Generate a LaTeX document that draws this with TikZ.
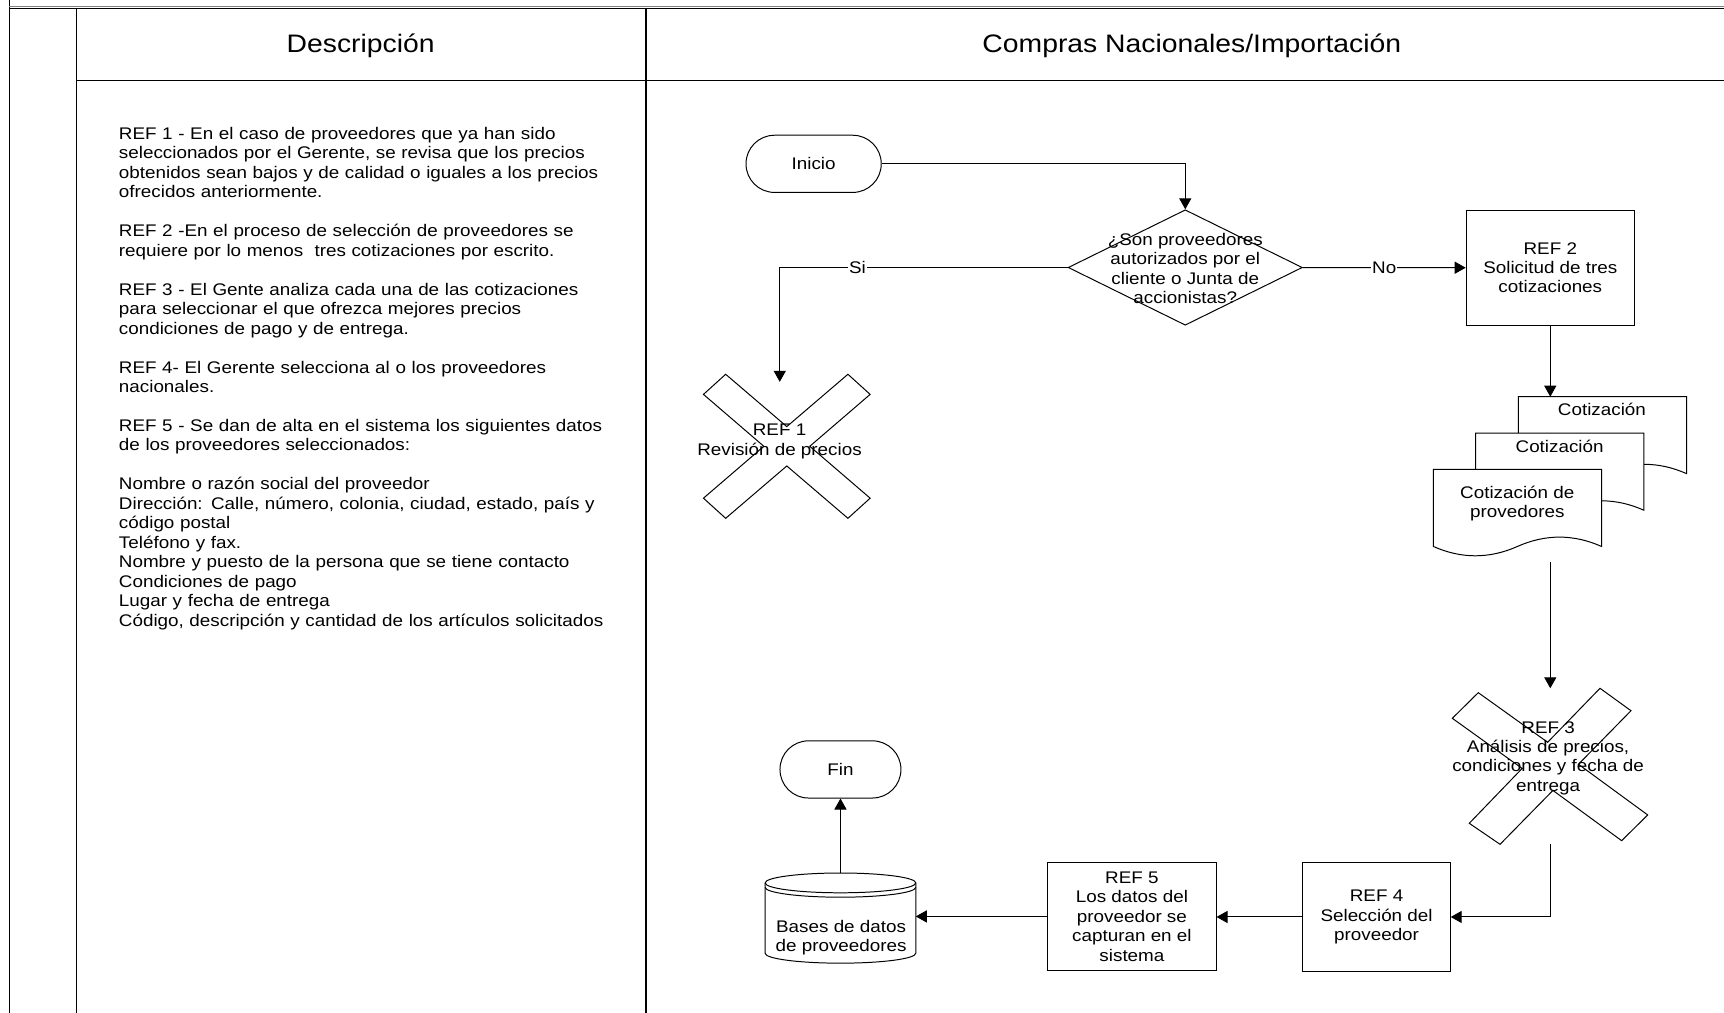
\documentclass[tikz,border=0pt]{standalone}
\usepackage{fontspec}
\setmainfont{Liberation Sans}[FakeStretch=1.12]
\usetikzlibrary{arrows.meta,shapes.geometric}

\newcommand\bodyfont{\fontsize{15.3}{17.7}\selectfont}
\newcommand\headfont{\fontsize{23}{27}\selectfont}

\tikzset{
  conn/.style={line width=0.9pt},
  arr/.style={conn, -{Triangle[length=10pt,width=11pt]}},
  frame/.style={line width=1.3pt},
  txt/.style={inner sep=0pt, align=center, font=\bodyfont},
  desctext/.style={inner sep=0pt, align=left, text width=480pt, font=\bodyfont},
  procbox/.style={draw, line width=0.9pt, inner sep=0pt, align=center, font=\bodyfont, minimum height=99pt},
  term/.style={draw, line width=0.9pt, rounded corners=25.9pt, minimum height=52pt, inner sep=0pt, font=\bodyfont},
  decision/.style={draw, diamond, line width=0.9pt, minimum width=213pt, minimum height=105pt, inner sep=0pt},
  hotspot/.style={inner sep=0pt, outer sep=0pt},
  lbl/.style={fill=white, inner sep=1pt, font=\bodyfont},
  pageline/.style={draw, line width=0.9pt, fill=white, line join=miter},
  crossline/.style={draw, line width=0.9pt, line join=miter},
  % one sheet of the stacked documents, anchored at its top-left corner
  docpage/.pic={
    \path[pageline] (0,0) -- (153,0) -- (153,70)
      .. controls (127.5,58.67) and (102,58.67) .. (76.5,70)
      .. controls (51,81.33) and (25.5,81.33) .. (0,70) -- cycle;
  },
  % cross-shaped manual step, narrow arms
  crossone/.pic={
    \path[crossline] (-55.6,-65.5) -- (0,-17.9) -- (55.6,-65.5) -- (75.8,-47.2)
      -- (20.9,0) -- (75.8,47.2) -- (55.6,65.5) -- (0,17.9) -- (-55.6,65.5)
      -- (-75.8,47.2) -- (-20.9,0) -- (-75.8,-47.2) -- cycle;
  },
  % cross-shaped manual step, wider arms
  crosstwo/.pic={
    \path[crossline] (-65.5,-67) -- (-2.4,-21.9) -- (45.2,-71) -- (73.4,-50.6)
      -- (25.6,-1.9) -- (88.6,44.2) -- (64.9,67.6) -- (2.4,21.9) -- (-45.7,70.9)
      -- (-73.7,51.8) -- (-25.6,1.9) -- (-89.1,-43.7) -- cycle;
  },
  % database cylinder, centred on its box
  cylinder/.pic={
    \path[crossline] (-68.5,-32) -- (-68.5,32)
      arc[start angle=180, end angle=0, x radius=68.5, y radius=9] -- (68.5,-32);
    \path[crossline] (0,-32) ellipse [x radius=68.5, y radius=9];
    \path[crossline] (-68.5,-28) arc[start angle=180, end angle=0, x radius=68.5, y radius=9];
  },
}

\begin{document}
\begin{tikzpicture}[x=1pt, y=-1pt]
\useasboundingbox (0,0) rectangle (1568,921);

% table frame
\draw[frame] (8.5,0) -- (8.5,921);
\draw[line width=1.4pt, black!50] (8.5,6) -- (1568,6);
\draw[line width=1pt] (8.5,7.4) -- (1568,7.4);
\draw[frame] (69.8,7.5) -- (69.8,921);
\draw[frame] (69.8,73) -- (1568,73);
\draw[frame] (587.6,7.5) -- (587.6,921);

% column headers
\node[font=\headfont, anchor=base, inner sep=0pt] (hdesc) at (328,48) {Descripción};
\node[font=\headfont, anchor=base, inner sep=0pt] (hflow) at (1084,48) {Compras Nacionales/Importación};

% description column
\node[desctext, anchor=north west] (desc) at (108,114.7) {\rule{0pt}{12pt}REF 1 - En el caso de proveedores que ya han sido\\
seleccionados por el Gerente, se revisa que los precios\\
obtenidos sean bajos y de calidad o iguales a los precios\\
ofrecidos anteriormente.\\[17.7pt]
REF 2 -En el proceso de selección de proveedores se\\
requiere por lo menos\ \ tres cotizaciones por escrito.\\[17.7pt]
REF 3 - El Gente analiza cada una de las cotizaciones\\
para seleccionar el que ofrezca mejores precios\\
condiciones de pago y de entrega.\\[17.7pt]
REF 4- El Gerente selecciona al o los proveedores\\
nacionales.\\[17.7pt]
REF 5 - Se dan de alta en el sistema los siguientes datos\\
de los proveedores seleccionados:\\[17.7pt]
Nombre o razón social del proveedor\\
Dirección: Calle, número, colonia, ciudad, estado, país y\\
código postal\\
Teléfono y fax.\\
Nombre y puesto de la persona que se tiene contacto\\
Condiciones de pago\\
Lugar y fecha de entrega\\
Código, descripción y cantidad de los artículos solicitados};

% flowchart nodes
\node[term, minimum width=123pt] (inicio) at (740,149) {Inicio};
\node[decision] (dec) at (1078,243.3) {};
\node[txt] (dectext) at (1078,244) {¿Son proveedores\\autorizados por el\\cliente o Junta de\\accionistas?};
\node[procbox, minimum width=153pt, minimum height=105pt] (ref2) at (1410,243.5) {REF 2\\Solicitud de tres\\cotizaciones};

% REF 1 manual step
\node[hotspot, minimum width=152pt, minimum height=133pt] (ref1x) at (715.6,405.9) {};
\pic at (ref1x.center) {crossone};
\node[txt] (ref1t) at (709,401.5) {REF 1\\Revisión de precios};

% stacked quotations
\node[hotspot, minimum width=230.4pt, minimum height=150.6pt] (stack) at (1418.8,436.1) {};
\pic at (1381,360.8) {docpage};
\pic at (1342,394) {docpage};
\pic at (1303.6,427) {docpage};
\node[txt] (cot1) at (1457,372.3) {Cotización};
\node[txt] (cot2) at (1418.5,405.6) {Cotización};
\node[txt] (cot3) at (1380,458) {Cotización de\\provedores};

% REF 3 manual step
\node[hotspot, minimum width=178pt, minimum height=142pt] (ref3x) at (1410,697) {};
\pic at (ref3x.center) {crosstwo};
\node[txt] (ref3t) at (1408,689.5) {REF 3\\Análisis de precios,\\condiciones y fecha de\\entrega};

\node[procbox, minimum width=134pt] (ref4) at (1252,834) {REF 4\\Selección del\\proveedor};
\node[procbox, minimum width=153pt] (ref5) at (1029.5,833.5) {REF 5\\Los datos del\\proveedor se\\capturan en el\\sistema};

% supplier database
\node[hotspot, minimum width=137pt, minimum height=82pt] (db) at (764.4,835) {};
\pic at (db.center) {cylinder};
\node[txt] (dbt) at (765,853) {Bases de datos\\de proveedores};

\node[term, minimum width=110pt] (fin) at (764.4,699.8) {Fin};

% connectors
\draw[arr] (inicio.east) -| (dec.north);
\draw[arr] (dec.west) -| node[lbl, pos=0.365] {Si} ([shift={(-6.4,7.9)}]ref1x.north);
\draw[arr] (dec.east) -- node[lbl] {No} (ref2.west);
\draw[arr] (ref2.south) -- (ref2.south |- stack.north);
\draw[arr] (ref3x.north |- stack.south) -- (ref3x.north);
\draw[arr] (ref3x.south) |- (ref4.east);
\draw[arr] (ref4.west) -- (ref5.east |- ref4.west);
\draw[arr] (ref5.west) -- (ref5.west -| db.east);
\draw[arr] (db.north) -- (fin.south);
\end{tikzpicture}
\end{document}
